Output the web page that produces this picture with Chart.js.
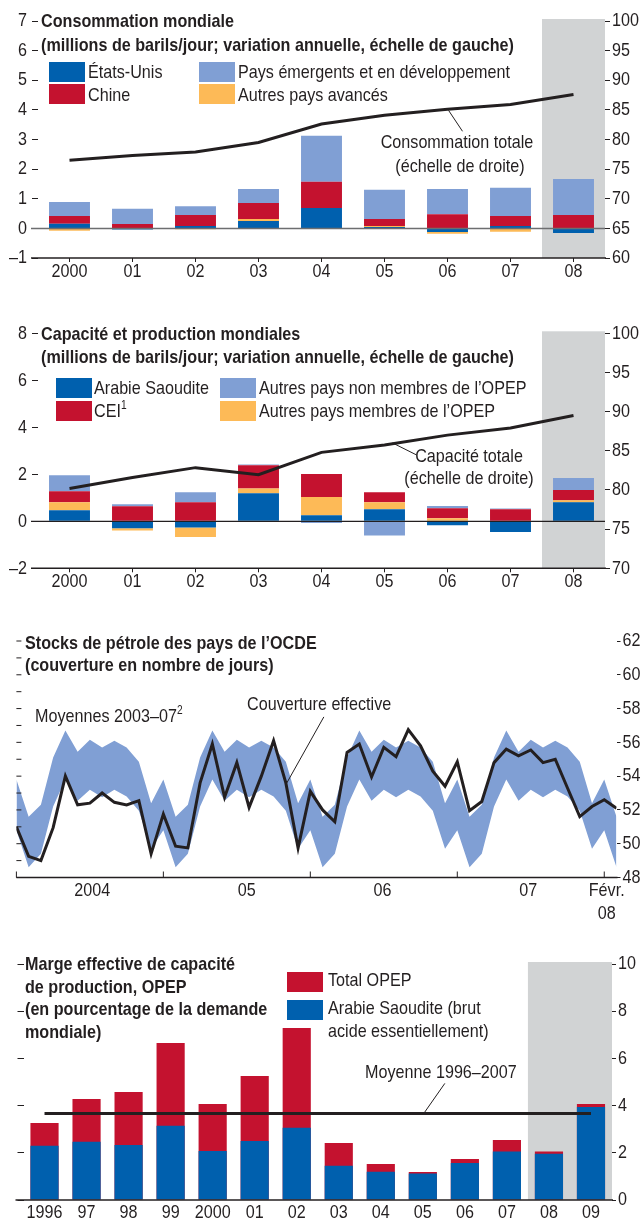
<!DOCTYPE html>
<html>
<head>
<meta charset="utf-8">
<script src="https://cdn.jsdelivr.net/npm/chart.js@4.4.0/dist/chart.umd.min.js"></script>
<style>
  body { margin: 0; background: #fff; width: 641px; height: 1220px; position: relative; overflow: hidden;
         font-family: "Liberation Sans", Arial, sans-serif; color: #231f20; }
  canvas { position: absolute; left: 0; }
  .t { position: absolute; white-space: nowrap; font-size: 19px; line-height: 22px;
       transform: scaleX(0.85); transform-origin: 0 50%; }
  .b { font-weight: bold; }
  .c { text-align: center; width: 240px; transform-origin: 50% 50%; }
  .sw { position: absolute; width: 36px; height: 20px; }
  sup { font-size: 12px; line-height: 0; position: relative; top: -1px; }
</style>
</head>
<body>
<canvas id="c1" width="641" height="290" style="top:0"></canvas>
<canvas id="c2" width="641" height="300" style="top:300px"></canvas>
<canvas id="c3" width="641" height="300" style="top:620px"></canvas>
<canvas id="c4" width="641" height="280" style="top:940px"></canvas>

<!-- panneau 1 -->
<div class="t b" style="left:41px;top:10px">Consommation mondiale</div>
<div class="t b" style="left:41px;top:34px">(millions de barils/jour; variation annuelle, échelle de gauche)</div>
<div class="sw" style="left:49px;top:62px;background:#0060ae"></div>
<div class="sw" style="left:49px;top:84px;background:#c4122f"></div>
<div class="sw" style="left:199px;top:62px;background:#809fd4"></div>
<div class="sw" style="left:199px;top:84px;background:#fdba57"></div>
<div class="t" style="left:88px;top:61px">États-Unis</div>
<div class="t" style="left:88px;top:84px">Chine</div>
<div class="t" style="left:238px;top:61px">Pays émergents et en développement</div>
<div class="t" style="left:238px;top:84px">Autres pays avancés</div>
<div class="t c" style="left:337px;top:131px">Consommation totale</div>
<div class="t c" style="left:340px;top:155px">(échelle de droite)</div>

<!-- panneau 2 -->
<div class="t b" style="left:41px;top:323px">Capacité et production mondiales</div>
<div class="t b" style="left:41px;top:346px">(millions de barils/jour; variation annuelle, échelle de gauche)</div>
<div class="sw" style="left:56px;top:378px;background:#0060ae"></div>
<div class="sw" style="left:56px;top:401px;background:#c4122f"></div>
<div class="sw" style="left:220px;top:378px;background:#809fd4"></div>
<div class="sw" style="left:220px;top:401px;background:#fdba57"></div>
<div class="t" style="left:94px;top:377px">Arabie Saoudite</div>
<div class="t" style="left:94px;top:400px">CEI<sup>1</sup></div>
<div class="t" style="left:259px;top:377px">Autres pays non membres de l’OPEP</div>
<div class="t" style="left:259px;top:400px">Autres pays membres de l’OPEP</div>
<div class="t c" style="left:349px;top:445px">Capacité totale</div>
<div class="t c" style="left:349px;top:467px">(échelle de droite)</div>

<!-- panneau 3 -->
<div class="t b" style="left:25px;top:632px">Stocks de pétrole des pays de l’OCDE</div>
<div class="t b" style="left:25px;top:654px">(couverture en nombre de jours)</div>
<div class="t" style="left:35px;top:705px">Moyennes 2003–07<sup>2</sup></div>
<div class="t" style="left:247px;top:693px">Couverture effective</div>

<!-- panneau 4 -->
<div class="t b" style="left:25px;top:953px">Marge effective de capacité</div>
<div class="t b" style="left:25px;top:976px">de production, OPEP</div>
<div class="t b" style="left:25px;top:998px">(en pourcentage de la demande</div>
<div class="t b" style="left:25px;top:1021px">mondiale)</div>
<div class="sw" style="left:287px;top:972px;background:#c4122f"></div>
<div class="sw" style="left:287px;top:1000px;background:#0060ae"></div>
<div class="t" style="left:328px;top:969px">Total OPEP</div>
<div class="t" style="left:328px;top:997px">Arabie Saoudite (brut</div>
<div class="t" style="left:328px;top:1020px">acide essentiellement)</div>
<div class="t" style="left:365px;top:1061px">Moyenne 1996–2007</div>

<script>
// Consommation mondiale, variation annuelle (millions b/j)
const years = ['2000', '01', '02', '03', '04', '05', '06', '07', '08'];
const consUS = [0.16, -0.04, 0.08, 0.25, 0.69, 0.05, -0.12, 0.08, -0.16];
const consOtherAdv = [-0.08, 0, -0.03, 0.07, -0.02, 0.03, -0.06, -0.11, 0];
const consChina = [0.26, 0.15, 0.37, 0.54, 0.88, 0.24, 0.48, 0.34, 0.45];
const consEmerging = [0.47, 0.51, 0.30, 0.47, 1.56, 0.98, 0.85, 0.95, 1.22];
const consTotal = [76.5, 77.3, 77.9, 79.5, 82.6, 84.1, 85.1, 85.9, 87.6];

// Capacité et production mondiales
const capSaudi = [0.47, -0.30, -0.26, 1.19, 0.26, 0.51, -0.17, -0.45, 0.81];
const capOtherOpec = [0.34, -0.09, -0.41, 0.21, 0.77, 0.30, 0.13, 0, 0.09];
const capCEI = [0.47, 0.64, 0.81, 0.98, 0.98, 0.43, 0.43, 0.51, 0.43];
const capNonOpec = [0.68, 0.09, 0.43, 0.04, -0.07, -0.60, 0.09, 0.04, 0.51];
const capTotal = [80.2, 81.6, 82.85, 81.95, 84.8, 85.75, 87.0, 87.9, 89.5];

// Stocks OCDE, janv. 2004 - févr. 2008 (jours)
const stockActual = [
  51.0, 49.25, 49.0, 50.95, 54.0, 52.3, 52.4, 53.0, 52.45, 52.3, 52.55, 49.4,
  51.75, 49.85, 49.75, 53.6, 55.9, 52.75, 54.8, 52.15, 54.0, 56.1, 53.6, 49.75,
  53.1, 52.0, 51.3, 55.4, 55.9, 53.95, 55.7, 55.15, 56.75, 55.8, 54.3, 53.4,
  54.85, 51.95, 52.5, 54.8, 55.6, 55.2, 55.55, 54.8, 55.0, 53.3, 51.6, 52.2,
  52.6, 52.1
];
const stockAvgHigh = [
  53.8, 51.6, 52.3, 55.1, 56.7, 55.45, 56.15, 55.7, 56.1, 55.7, 54.85, 52.4,
  53.8, 51.6, 52.3, 55.1, 56.7, 55.45, 56.15, 55.7, 56.1, 55.7, 54.85, 52.4,
  53.8, 51.6, 52.3, 55.1, 56.7, 55.45, 56.15, 55.7, 56.1, 55.7, 54.85, 52.4,
  53.8, 51.6, 52.3, 55.1, 56.7, 55.45, 56.15, 55.7, 56.1, 55.7, 54.85, 52.4,
  53.8, 51.6
];
const stockAvgLow = [
  50.8, 48.6, 49.4, 52.2, 53.8, 52.55, 53.2, 52.75, 53.2, 52.8, 51.95, 49.7,
  50.8, 48.6, 49.4, 52.2, 53.8, 52.55, 53.2, 52.75, 53.2, 52.8, 51.95, 49.7,
  50.8, 48.6, 49.4, 52.2, 53.8, 52.55, 53.2, 52.75, 53.2, 52.8, 51.95, 49.7,
  50.8, 48.6, 49.4, 52.2, 53.8, 52.55, 53.2, 52.75, 53.2, 52.8, 51.95, 49.7,
  50.8, 48.6
];
const stockTickLabels = ['2004', '05', '06', '07', ['Févr.', '08']];
const stockTickMonths = [6.2, 18.8, 29.9, 41.8, 48.2];
const stockYearStarts = [0, 12, 24, 36, 48];

// Marge de capacité OPEP (% demande mondiale)
const spareYears = ['1996', '97', '98', '99', '2000', '01', '02', '03', '04', '05', '06', '07', '08', '09'];
const spareOpec = [3.26, 4.28, 4.58, 6.65, 4.07, 5.25, 7.29, 2.42, 1.53, 1.19, 1.74, 2.54, 2.05, 4.07];
const spareSaudi = [2.30, 2.47, 2.33, 3.15, 2.08, 2.50, 3.06, 1.45, 1.20, 1.12, 1.57, 2.05, 1.96, 3.94];
const spareMean = 3.67;

const INK = '#231f20', BLUE = '#0060ae', RED = '#c4122f', LBLUE = '#809fd4', YELLOW = '#fdba57', GRAY = '#d1d3d4';

Chart.defaults.font.family = '"Liberation Sans", Arial, sans-serif';
Chart.defaults.font.size = 19;
Chart.defaults.color = INK;
Chart.defaults.animation = false;
Chart.defaults.responsive = false;
Chart.defaults.plugins.legend.display = false;
Chart.defaults.plugins.tooltip.enabled = false;

const fixW = w => s => { s.width = w; };
const fixH = h => s => { s.height = h; };
const dash = v => String(v).replace('-', '\u2013');

// texte étroit (style Helvetica Condensed)
const narrow = {
  id: 'narrow',
  beforeInit(chart) {
    const ctx = chart.ctx, fill = ctx.fillText.bind(ctx);
    ctx.fillText = (t, x, y) => {
      ctx.save(); ctx.translate(x, y); ctx.scale(0.85, 1); fill(t, 0, 0); ctx.restore();
    };
  }
};

// bande grise, ligne de base, ligne zéro, renvois
const extras = {
  id: 'extras',
  beforeDatasetsDraw(chart, args, o) {
    if (o.bandFrom == null) return;
    const { ctx, chartArea: a } = chart, x = chart.scales.x;
    const l = (x.getPixelForValue(o.bandFrom - 1) + x.getPixelForValue(o.bandFrom)) / 2;
    ctx.save();
    ctx.fillStyle = GRAY;
    ctx.fillRect(l, a.top - 2, a.right - l, a.bottom - a.top + 2);
    ctx.restore();
  },
  afterDatasetsDraw(chart, args, o) {
    const { ctx, chartArea: a } = chart;
    const line = (x1, y1, x2, y2, w, c) => {
      ctx.strokeStyle = c; ctx.lineWidth = w;
      ctx.beginPath(); ctx.moveTo(x1, y1); ctx.lineTo(x2, y2); ctx.stroke();
    };
    ctx.save();
    line(a.left - (o.ext || 0), a.bottom, a.right + 1, a.bottom, 1.5, INK);
    if (o.zero) {
      const y = chart.scales.y.getPixelForValue(0);
      line(a.left - (o.ext || 0), y, a.right, y, o.zero[0], o.zero[1]);
    }
    (o.innerX || []).forEach(v => {
      const x = chart.scales.x.getPixelForValue(v);
      line(x, a.bottom, x, a.bottom - 6, 1, INK);
    });
    if (o.innerY) {
      const s = chart.scales.y;
      for (let v = s.min; v <= s.max; v += 1) {
        const y = s.getPixelForValue(v);
        line(a.left, y, a.left + 5, y, 1, INK);
      }
    }
    (o.leaders || []).forEach(d => {
      const px = chart.scales.x.getPixelForValue(d.x), py = chart.scales[d.axis].getPixelForValue(d.v);
      line(px + d.from[0], py + d.from[1], px + d.to[0], py + d.to[1], 1, INK);
    });
    ctx.restore();
  }
};

function stackChart(id, sets, total, o) {
  return new Chart(document.getElementById(id), {
    type: 'bar',
    data: {
      labels: years,
      datasets: [
        { type: 'line', data: total, yAxisID: 'y2', borderColor: INK, borderWidth: 3, pointRadius: 0, order: 0 },
        ...sets.map(s => ({ data: s[0], backgroundColor: s[1], yAxisID: 'y', order: 1,
          barPercentage: 0.65, categoryPercentage: 1 }))
      ]
    },
    options: {
      layout: { padding: { top: o.top } },
      scales: {
        x: { stacked: true, border: { display: false },
             grid: { offset: false, drawOnChartArea: false, tickLength: 4, color: INK },
             ticks: { padding: -2, maxRotation: 0, autoSkip: false }, afterFit: fixH(o.xh) },
        y: { position: 'left', stacked: true, min: o.min, max: o.max, border: { display: false },
             grid: { drawOnChartArea: false, tickLength: 6, color: INK },
             ticks: { stepSize: o.step, padding: 5, callback: v => (v % o.lab === 0 ? dash(v) : '') },
             afterFit: fixW(38) },
        y2: { position: 'right', min: o.rmin, max: 100, border: { display: false },
              grid: { drawOnChartArea: false, tickLength: 5, color: INK },
              ticks: { stepSize: 2.5, padding: 2, callback: v => (v % 5 === 0 ? v : '') },
              afterFit: fixW(36) }
      },
      plugins: { extras: o.extras }
    },
    plugins: [narrow, extras]
  });
}

stackChart('c1',
  [[consUS, BLUE], [consOtherAdv, YELLOW], [consChina, RED], [consEmerging, LBLUE]],
  consTotal,
  { top: 21, xh: 32, min: -1, max: 7, step: 0.5, lab: 1, rmin: 60,
    extras: { bandFrom: 8, ext: 7, zero: [1.5, '#6d6e70'],
              leaders: [{ x: 6, v: 85.1, axis: 'y2', from: [1, 1], to: [15, 22] }] } });

stackChart('c2',
  [[capSaudi, BLUE], [capOtherOpec, YELLOW], [capCEI, RED], [capNonOpec, LBLUE]],
  capTotal,
  { top: 33.3, xh: 31.7, min: -2, max: 8, step: 1, lab: 2, rmin: 70,
    extras: { bandFrom: 8, ext: 7, zero: [1.2, INK],
              leaders: [{ x: 5, v: 85.75, axis: 'y2', from: [8, -2], to: [32, 10] }] } });

const xy = arr => arr.map((v, i) => ({ x: i, y: v }));
new Chart(document.getElementById('c3'), {
  type: 'line',
  data: {
    datasets: [
      { data: xy(stockActual), borderColor: INK, borderWidth: 3, pointRadius: 0 },
      { data: xy(stockAvgHigh), borderColor: 'rgba(0,0,0,0)', borderWidth: 0, pointRadius: 0, fill: false },
      { data: xy(stockAvgLow), borderColor: 'rgba(0,0,0,0)', borderWidth: 0, pointRadius: 0, fill: '-1', backgroundColor: LBLUE }
    ]
  },
  options: {
    layout: { padding: { top: 21, left: 16.4 } },
    scales: {
      x: { type: 'linear', min: 0, max: 49, border: { display: false },
           grid: { drawOnChartArea: false, drawTicks: false },
           afterBuildTicks: s => { s.ticks = stockTickMonths.map(v => ({ value: v })); },
           ticks: { padding: 2, autoSkip: false, maxRotation: 0, callback: (v, i) => stockTickLabels[i] },
           afterFit: fixH(42.5) },
      y: { position: 'right', min: 48, max: 62, border: { display: false },
           grid: { drawOnChartArea: false, tickLength: 4, color: INK },
           ticks: { stepSize: 1, padding: 2, callback: v => (v % 2 === 0 ? v : '') },
           afterFit: fixW(24.5) }
    },
    plugins: { extras: { ext: 0, innerX: stockYearStarts, innerY: true,
                         leaders: [{ x: 22, v: 53.6, axis: 'y', from: [1, 0], to: [38, -66] }] } }
  },
  plugins: [narrow, extras]
});

new Chart(document.getElementById('c4'), {
  type: 'bar',
  data: {
    labels: spareYears,
    datasets: [
      { type: 'line', data: spareYears.map(() => spareMean), yAxisID: 'y2', borderColor: INK, borderWidth: 3, pointRadius: 0, order: 0 },
      { data: spareSaudi, yAxisID: 'y2', backgroundColor: BLUE, order: 1, grouped: false, barPercentage: 0.67, categoryPercentage: 1 },
      { data: spareOpec, yAxisID: 'y2', backgroundColor: RED, order: 2, grouped: false, barPercentage: 0.67, categoryPercentage: 1 }
    ]
  },
  options: {
    layout: { padding: { top: 24 } },
    scales: {
      x: { border: { display: false }, grid: { drawOnChartArea: false, drawTicks: false },
           ticks: { padding: 1.5, maxRotation: 0, autoSkip: false }, afterFit: fixH(20) },
      y: { position: 'left', min: 0, max: 10, border: { display: false },
           grid: { drawOnChartArea: false, tickLength: 6, color: INK },
           ticks: { stepSize: 1, padding: 0, callback: () => '' }, afterFit: fixW(23.5) },
      y2: { position: 'right', min: 0, max: 10, border: { display: false },
            grid: { drawOnChartArea: false, tickLength: 4, color: INK },
            ticks: { stepSize: 1, padding: 2, callback: v => (v % 2 === 0 ? v : '') },
            afterFit: fixW(29) }
    },
    plugins: { extras: { bandFrom: 12, ext: 8,
                         leaders: [{ x: 9, v: spareMean, axis: 'y2', from: [1, 0], to: [22, -30] }] } }
  },
  plugins: [narrow, extras]
});
</script>
</body>
</html>
